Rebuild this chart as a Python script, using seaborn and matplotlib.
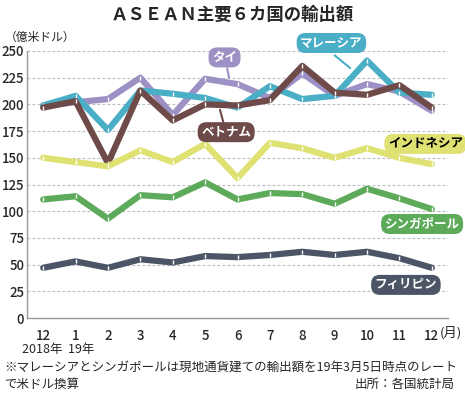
import pandas as pd
import seaborn as sns
import matplotlib.pyplot as plt

# データ
months = ["12", "1", "2", "3", "4", "5", "6", "7", "8", "9", "10", "11", "12"]
thai = [199, 202, 205, 225, 190, 224, 219, 206, 229, 208, 219, 212, 194]
malaysia = [199, 208, 176, 213, 210, 206, 197, 217, 205, 208, 241, 211, 209]
vietnam = [197, 203, 145, 213, 185, 200, 199, 204, 236, 211, 209, 218, 197]
indonesia = [150, 146, 142, 157, 146, 163, 131, 164, 159, 150, 159, 150, 144]
singapore = [111, 114, 93, 115, 113, 127, 111, 117, 116, 107, 121, 112, 102]
philippines = [47, 53, 47, 55, 52, 58, 57, 59, 62, 59, 62, 56, 47]

countries = ["タイ", "マレーシア", "ベトナム", "インドネシア", "シンガポール", "フィリピン"]
colors = ["#9d90c4", "#4aaec6", "#6e4a48", "#dfe272", "#5dab5a", "#4b5566"]

rows = []
for name, vals in zip(countries, [thai, malaysia, vietnam, indonesia, singapore, philippines]):
    for i, v in enumerate(vals):
        rows.append({"idx": i, "value": v, "country": name})
df = pd.DataFrame(rows)

sns.set_style("white")
plt.rcParams['font.family'] = ['Noto Sans CJK JP', 'DejaVu Sans']

fig = plt.figure(figsize=(4.65, 3.97), dpi=100)
ax = fig.add_axes([27 / 465, 1 - 318 / 397, (448 - 27) / 465, (318 - 51) / 397])

sns.lineplot(data=df, x="idx", y="value", hue="country", hue_order=countries,
             palette=colors, linewidth=4.5, marker="|", markersize=3.5,
             markeredgecolor="white", markeredgewidth=1.0, legend=False, ax=ax)

ax.set_xlim(-0.5, 12.5)
ax.set_ylim(0, 250)
ax.set_yticks(range(0, 251, 25))
ax.set_xticks(range(13))
ax.set_xticklabels(months)
ax.set_xlabel("")
ax.set_ylabel("")
for y in range(25, 251, 25):
    ax.axhline(y, color="#bbbbbb", lw=0.8, ls=(0, (2.5, 2)), zorder=0)
for s in ["top", "right"]:
    ax.spines[s].set_visible(False)
for s in ["left", "bottom"]:
    ax.spines[s].set_color("#999999")
    ax.spines[s].set_linewidth(1)
ax.tick_params(axis="both", length=0, labelsize=9.5)
ax.tick_params(axis="y", pad=2)
ax.tick_params(axis="x", pad=8)
for t in ax.get_xticklabels() + ax.get_yticklabels():
    t.set_fontweight("medium")

# ラベル
def label(x, y, text, fc, tc="white"):
    ax.text(x, y, text, ha="center", va="center", fontsize=9, fontweight="bold", color=tc,
            bbox=dict(boxstyle="round,pad=0.28,rounding_size=0.7", fc=fc, ec="none"),
            clip_on=False, zorder=10)

label(8.9, 257.5, "マレーシア", colors[1])
label(5.6, 244, "タイ", colors[0])
label(5.65, 174, "ベトナム", colors[2])
label(11.8, 163, "インドネシア", colors[3], tc="black")
label(11.7, 88, "シンガポール", colors[4])
label(11.2, 31, "フィリピン", colors[5])
ax.plot([9.0, 9.48], [246, 234], color=colors[1], lw=1.5, clip_on=False)
ax.plot([5.68, 5.74], [234, 225], color=colors[0], lw=1.5)
ax.plot([5.46, 5.56], [195, 183.5], color=colors[2], lw=1.5)

fig.text(0.5, 1 - 15 / 397, "ＡＳＥＡＮ主要６カ国の輸出額", ha="center", va="center",
         fontsize=12.5, fontweight="bold")
fig.text(5 / 465, 1 - 37 / 397, "（億米ドル）", ha="left", va="center", fontsize=8.5)
fig.text(440 / 465, 1 - 333 / 397, "(月)", ha="left", va="center", fontsize=9.5)
fig.text(22 / 465, 1 - 350 / 397, "2018年  19年", ha="left", va="center", fontsize=9)
fig.text(4 / 465, 1 - 367 / 397, "※マレーシアとシンガポールは現地通貨建ての輸出額を19年3月5日時点のレート",
         ha="left", va="center", fontsize=9)
fig.text(4 / 465, 1 - 384 / 397, "で米ドル換算", ha="left", va="center", fontsize=9)
fig.text(455 / 465, 1 - 384 / 397, "出所：各国統計局", ha="right", va="center", fontsize=9)

fig.savefig("out.png", dpi=100)
